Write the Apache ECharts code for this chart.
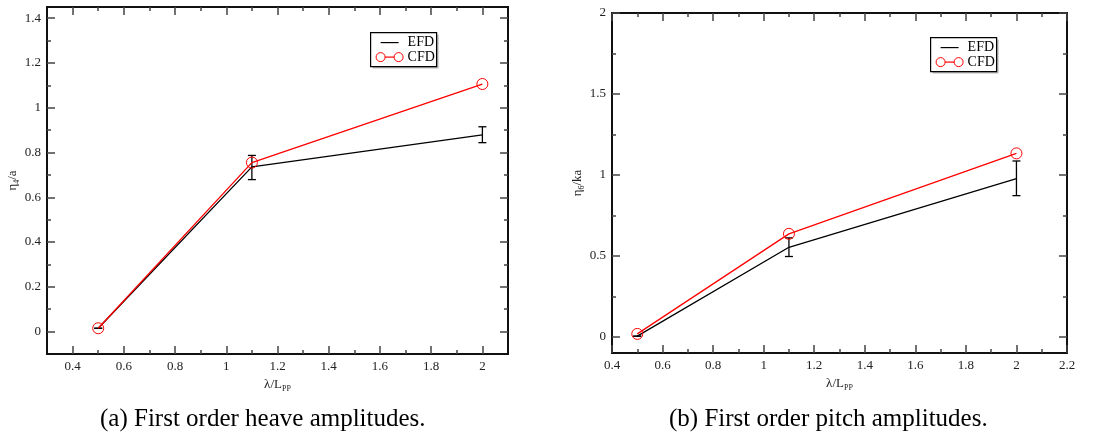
<!DOCTYPE html>
<html>
<head>
<meta charset="utf-8">
<script src="https://cdn.jsdelivr.net/npm/echarts@6/dist/echarts.min.js"></script>
<style>
html, body { margin: 0; padding: 0; background: #fff; }
#main { width: 1116px; height: 438px; }
</style>
</head>
<body>
<div id="main"></div>
<script>
// x positions (lambda / Lpp)
var lambdaVals = [0.5, 1.1, 2.0];

// (a) heave
var heaveEfd = [0.015, 0.736, 0.879];
var heaveEfdLow = [0.015, 0.679, 0.844];
var heaveEfdHigh = [0.015, 0.787, 0.915];
var heaveCfd = [0.015, 0.755, 1.106];

// (b) pitch
var pitchEfd = [0.004, 0.553, 0.977];
var pitchEfdLow = [0.004, 0.496, 0.872];
var pitchEfdHigh = [0.004, 0.611, 1.086];
var pitchCfd = [0.018, 0.636, 1.133];

// tick values
var heaveXMajor = [0.4, 0.6, 0.8, 1, 1.2, 1.4, 1.6, 1.8, 2];
var heaveXMinor = [0.5, 0.7, 0.9, 1.1, 1.3, 1.5, 1.7, 1.9];
var heaveYMajor = [0, 0.2, 0.4, 0.6, 0.8, 1, 1.2, 1.4];
var heaveYMinor = [0.1, 0.3, 0.5, 0.7, 0.9, 1.1, 1.3];
var pitchXMajor = [0.4, 0.6, 0.8, 1, 1.2, 1.4, 1.6, 1.8, 2, 2.2];
var pitchXMinor = [0.5, 0.7, 0.9, 1.1, 1.3, 1.5, 1.7, 1.9, 2.1];
var pitchYMajor = [0, 0.5, 1, 1.5, 2];
var pitchYMinor = [0.25, 0.75, 1.25, 1.75];

var SERIF = 'Liberation Serif';
var chart = echarts.init(document.getElementById('main'));

function pairs(xs, ys) {
    return xs.map(function (x, i) { return [x, ys[i]]; });
}

// one axis (major or minor) - ticks inside, frame line
function makeAxis(dim, gi, pos, min, max, ticks, major, showLabel, name) {
    var ax = {
        type: 'value',
        gridIndex: gi,
        position: pos,
        min: min,
        max: max,
        splitLine: { show: false },
        axisLine: { show: true, onZero: false, lineStyle: { color: '#111', width: 2 } },
        axisTick: { show: true, inside: true, length: major ? 8 : 4, customValues: ticks,
            lineStyle: { color: '#444', width: 1.5 } },
        axisLabel: { show: showLabel, customValues: ticks, margin: 6,
            fontFamily: SERIF, fontSize: 13, color: '#222' }
    };
    if (name) {
        ax.name = name;
        ax.nameLocation = 'middle';
        ax.nameGap = dim == 'x' ? 20 : 25;
        ax.nameTextStyle = {
            fontFamily: SERIF, fontSize: 13, color: '#222',
            rich: {
                a: { fontFamily: SERIF, fontSize: 13, color: '#222' },
                s: { fontFamily: SERIF, fontSize: 8, color: '#222', padding: [9, 0, 0, 0] }
            }
        };
    }
    return ax;
}

function errorBars(gi, xs, lows, highs) {
    return {
        type: 'custom',
        xAxisIndex: gi * 4,
        yAxisIndex: gi * 4,
        z: 3,
        data: xs.map(function (x, i) { return [x, lows[i], highs[i]]; }),
        renderItem: function (params, api) {
            var lo = api.coord([api.value(0), api.value(1)]);
            var hi = api.coord([api.value(0), api.value(2)]);
            var w = 4;
            var st = { stroke: '#000', lineWidth: 1.3 };
            return {
                type: 'group',
                children: [
                    { type: 'line', shape: { x1: lo[0], y1: lo[1], x2: hi[0], y2: hi[1] }, style: st },
                    { type: 'line', shape: { x1: lo[0] - w, y1: lo[1], x2: lo[0] + w, y2: lo[1] }, style: st },
                    { type: 'line', shape: { x1: hi[0] - w, y1: hi[1], x2: hi[0] + w, y2: hi[1] }, style: st }
                ]
            };
        }
    };
}

// legend box drawn by hand (line + two circles like the original)
function legendBox(x, y) {
    var t = { fontFamily: SERIF, fontSize: 14, fill: '#000', verticalAlign: 'middle' };
    return {
        type: 'group', left: x, top: y,
        children: [
            { type: 'rect', shape: { x: 2, y: 2, width: 66, height: 34 }, style: { fill: '#bbb' } },
            { type: 'rect', shape: { x: 0, y: 0, width: 66, height: 34 }, style: { fill: '#fff', stroke: '#000', lineWidth: 1.2 } },
            { type: 'line', shape: { x1: 10, y1: 10, x2: 28, y2: 10 }, style: { stroke: '#000', lineWidth: 1.2 } },
            { type: 'text', x: 37, y: 10, style: Object.assign({ text: 'EFD' }, t) },
            { type: 'line', shape: { x1: 10, y1: 24.5, x2: 28, y2: 24.5 }, style: { stroke: '#f00', lineWidth: 1.2 } },
            { type: 'circle', shape: { cx: 10, cy: 24.5, r: 4.5 }, style: { fill: '#fff', stroke: '#f00', lineWidth: 1 } },
            { type: 'circle', shape: { cx: 28, cy: 24.5, r: 4.5 }, style: { fill: '#fff', stroke: '#f00', lineWidth: 1 } },
            { type: 'text', x: 37, y: 24.5, style: Object.assign({ text: 'CFD' }, t) }
        ]
    };
}

var xAxes = [
    makeAxis('x', 0, 'bottom', 0.3, 2.1, heaveXMajor, true, true, '{a|λ/L}{s|PP}'),
    makeAxis('x', 0, 'bottom', 0.3, 2.1, heaveXMinor, false, false),
    makeAxis('x', 0, 'top', 0.3, 2.1, heaveXMajor, true, false),
    makeAxis('x', 0, 'top', 0.3, 2.1, heaveXMinor, false, false),
    makeAxis('x', 1, 'bottom', 0.4, 2.2, pitchXMajor, true, true, '{a|λ/L}{s|PP}'),
    makeAxis('x', 1, 'bottom', 0.4, 2.2, pitchXMinor, false, false),
    makeAxis('x', 1, 'top', 0.4, 2.2, pitchXMajor, true, false),
    makeAxis('x', 1, 'top', 0.4, 2.2, pitchXMinor, false, false)
];
var yAxes = [
    makeAxis('y', 0, 'left', -0.1, 1.45, heaveYMajor, true, true, '{a|η}{s|4}{a|/a}'),
    makeAxis('y', 0, 'left', -0.1, 1.45, heaveYMinor, false, false),
    makeAxis('y', 0, 'right', -0.1, 1.45, heaveYMajor, true, false),
    makeAxis('y', 0, 'right', -0.1, 1.45, heaveYMinor, false, false),
    makeAxis('y', 1, 'left', -0.1, 2, pitchYMajor, true, true, '{a|η}{s|6}{a|/ka}'),
    makeAxis('y', 1, 'left', -0.1, 2, pitchYMinor, false, false),
    makeAxis('y', 1, 'right', -0.1, 2, pitchYMajor, true, false),
    makeAxis('y', 1, 'right', -0.1, 2, pitchYMinor, false, false)
];

var lineEfd = { type: 'line', symbol: 'none', lineStyle: { color: '#000', width: 1.3 }, itemStyle: { color: '#000' }, z: 2 };
var lineCfd = { type: 'line', symbol: 'circle', symbolSize: 11,
    lineStyle: { color: '#f00', width: 1.3 },
    itemStyle: { color: 'rgba(255,255,255,0)', borderColor: '#f00', borderWidth: 1 }, z: 4 };

var option = {
    animation: false,
    grid: [
        { left: 47, top: 7, width: 461, height: 347 },
        { left: 612, top: 13, width: 455, height: 340 }
    ],
    xAxis: xAxes,
    yAxis: yAxes,
    series: [
        Object.assign({ name: 'EFD', xAxisIndex: 0, yAxisIndex: 0, data: pairs(lambdaVals, heaveEfd) }, lineEfd),
        errorBars(0, lambdaVals, heaveEfdLow, heaveEfdHigh),
        Object.assign({ name: 'CFD', xAxisIndex: 0, yAxisIndex: 0, data: pairs(lambdaVals, heaveCfd) }, lineCfd),
        Object.assign({ name: 'EFD', xAxisIndex: 4, yAxisIndex: 4, data: pairs(lambdaVals, pitchEfd) }, lineEfd),
        errorBars(1, lambdaVals, pitchEfdLow, pitchEfdHigh),
        Object.assign({ name: 'CFD', xAxisIndex: 4, yAxisIndex: 4, data: pairs(lambdaVals, pitchCfd) }, lineCfd)
    ],
    graphic: [
        legendBox(370, 32),
        legendBox(930, 37),
        { type: 'text', top: 407, left: 100, style: { text: '(a) First order heave amplitudes.', fontFamily: SERIF, fontSize: 25, fill: '#000' } },
        { type: 'text', top: 407, left: 669, style: { text: '(b) First order pitch amplitudes.', fontFamily: SERIF, fontSize: 25, fill: '#000' } }
    ]
};
chart.setOption(option);
</script>
</body>
</html>
